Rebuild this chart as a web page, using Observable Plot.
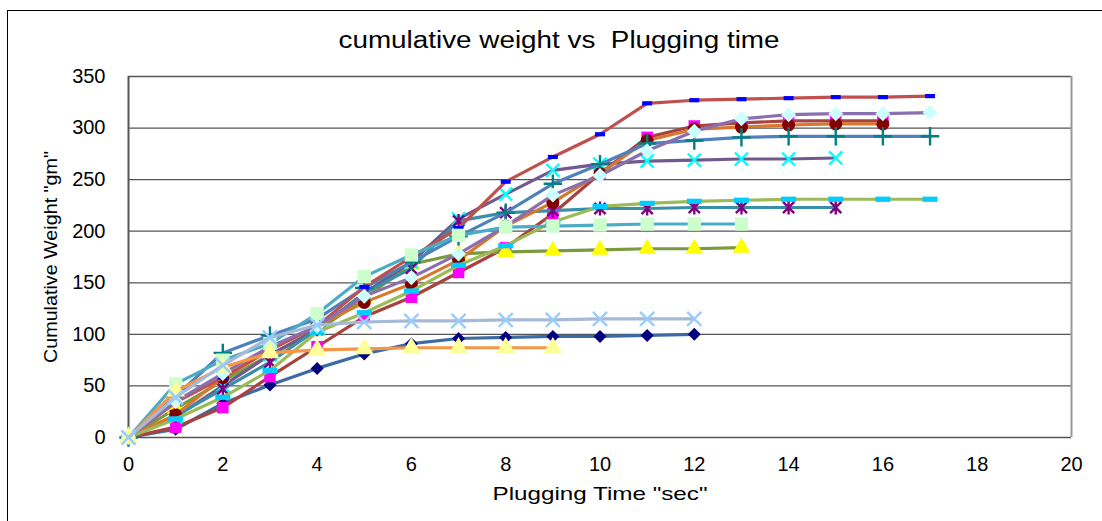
<!DOCTYPE html>
<html>
<head>
<meta charset="utf-8">
<script src="https://cdn.jsdelivr.net/npm/d3@7"></script>
<script src="https://cdn.jsdelivr.net/npm/@observablehq/plot@0.6"></script>
<style>
  html, body { margin: 0; padding: 0; background: #fff; }
  #wrap { position: relative; width: 1102px; height: 521px; overflow: hidden; }
  #frame { position: absolute; left: 7px; top: 10px; width: 1200px; height: 600px;
           border-left: 1px solid #000; border-top: 1px solid #000; pointer-events: none; }
</style>
</head>
<body>
<div id="wrap"><div id="frame"></div></div>
<script>
// ---- data ----
const title = "cumulative weight vs  Plugging time";
const xLabel = "Plugging Time \"sec\"";
const yLabel = "Cumulative Weight \"gm\"";
const xTicks = [0, 2, 4, 6, 8, 10, 12, 14, 16, 18, 20];
const yTicks = [0, 50, 100, 150, 200, 250, 300, 350];
const time = [0, 1, 2, 3, 4, 5, 6, 7, 8, 9, 10, 11, 12, 13, 14, 15, 16, 17];

const run1  = [0, 8, 33, 51, 67, 81, 91, 96, 97, 98, 98, 99, 100];
const run2  = [0, 10, 29, 59, 88, 117, 136, 160, 184, 217, 256, 291, 302, 305, 307, 307, 307];
const run3  = [0, 28, 55, 80, 103, 135, 168, 178, 180, 181, 182, 183, 183, 184];
const run4  = [0, 20, 50, 80, 105, 140, 170, 212, 236, 259, 265, 268, 269, 270, 270, 271];
const run5  = [0, 21, 47, 73, 105, 140, 164, 210, 218, 220, 222, 222, 223, 223, 223, 223];
const run6  = [0, 22, 58, 85, 108, 131, 149, 172, 205, 228, 256, 288, 299, 301, 303, 304, 304];
const run7  = [0, 40, 82, 99, 115, 145, 170, 195, 218, 246, 265, 285, 288, 291, 292, 292, 292, 292];
const run8  = [0, 34, 58, 85, 108, 146, 175, 203, 248, 272, 294, 324, 327, 328, 329, 330, 330, 331];
const run9  = [0, 18, 39, 65, 102, 121, 142, 167, 186, 209, 224, 227, 229, 230, 231, 231, 231, 231];
const run10 = [0, 35, 62, 88, 108, 137, 155, 178, 205, 235, 254, 278, 297, 309, 313, 314, 314, 315];
const run11 = [0, 52, 75, 91, 120, 156, 177, 196, 204, 205, 206, 207, 207, 207];
const run12 = [0, 45, 68, 82, 85, 86, 87, 87, 87, 87];
const run13 = [0, 39, 70, 97, 109, 112, 113, 113, 114, 114, 115, 115, 115];

const runs = [run1, run2, run3, run4, run5, run6, run7, run8, run9, run10, run11, run12, run13];

// ---- styles (Excel-like series formats) ----
function barSymbol(h) {
  return {draw(ctx, size) { const r = Math.sqrt(size / Math.PI);
    ctx.moveTo(-r, -r * h); ctx.lineTo(r, -r * h); ctx.lineTo(r, r * h); ctx.lineTo(-r, r * h); ctx.closePath(); }};
}
const diamondSq = {draw(ctx, size) { const r = Math.sqrt(size / Math.PI);
  ctx.moveTo(0, -r); ctx.lineTo(r, 0); ctx.lineTo(0, r); ctx.lineTo(-r, 0); ctx.closePath(); }};
const starX = {draw(ctx, size) { const r = Math.sqrt(size / Math.PI), d = r * 0.8;
  ctx.moveTo(-d, -d); ctx.lineTo(d, d); ctx.moveTo(d, -d); ctx.lineTo(-d, d); ctx.moveTo(0, -r); ctx.lineTo(0, r); }};

const styles = [
  {line: "#3C6AA4", marker: "#000080", symbol: diamondSq, r: 6.5},
  {line: "#A8423F", marker: "#FF00FF", symbol: "square", r: 6.5},
  {line: "#7A9A3E", marker: "#FFFF00", symbol: "triangle", r: 6.5},
  {line: "#71588F", marker: "#00FFFF", symbol: "times", r: 6, stroke: true},
  {line: "#3A8FA8", marker: "#800080", symbol: starX, r: 7, stroke: true},
  {line: "#D7782F", marker: "#800000", symbol: "circle", r: 6.5},
  {line: "#4F81BD", marker: "#008080", symbol: "plus", r: 6, stroke: true},
  {line: "#C0504D", marker: "#0000FF", symbol: barSymbol(0.42), r: 5},
  {line: "#9BBB59", marker: "#00CCFF", symbol: barSymbol(0.35), r: 7.5},
  {line: "#8A6FAE", marker: "#CCFFFF", symbol: diamondSq, r: 7.5},
  {line: "#4BACC6", marker: "#CCFFCC", symbol: "square", r: 7.5},
  {line: "#F79646", marker: "#FFFF99", symbol: "triangle", r: 7},
  {line: "#A7B9D8", marker: "#99CCFF", symbol: "times", r: 6.5, stroke: true}
];

const seriesMarks = runs.flatMap((vals, k) => {
  const rows = vals.map((v, i) => ({t: time[i], v}));
  const s = styles[k];
  const dot = s.stroke
    ? Plot.dot(rows, {x: "t", y: "v", symbol: s.symbol, r: s.r, fill: "none", stroke: s.marker, strokeWidth: 2.4})
    : Plot.dot(rows, {x: "t", y: "v", symbol: s.symbol, r: s.r, fill: s.marker, stroke: "none"});
  return [
    Plot.line(rows, {x: "t", y: "v", stroke: s.line, strokeWidth: 3.2, strokeLinejoin: "round"}),
    dot
  ];
});

const chart = Plot.plot({
  width: 1102,
  height: 521,
  marginLeft: 128,
  marginRight: 31,
  marginTop: 76,
  marginBottom: 84,
  style: {fontFamily: "'Liberation Sans', Arial, sans-serif", fontSize: "20px", color: "#000", background: "transparent"},
  x: {domain: [0, 20]},
  y: {domain: [0, 350]},
  marks: [
    Plot.ruleY(yTicks, {stroke: "#555", strokeWidth: 1.3}),
    Plot.ruleX([20], {stroke: "#999", strokeWidth: 2}),
    Plot.ruleX([0], {stroke: "#555", strokeWidth: 2}),
    Plot.axisY({ticks: yTicks, tickSize: 0, tickPadding: 23, label: null, fontSize: 20}),
    Plot.axisX({ticks: xTicks, tickSize: 0, tickPadding: 19, label: null, fontSize: 20}),
    ...seriesMarks,
    Plot.text([title], {frameAnchor: "top", lineAnchor: "middle", dy: -36, dx: -41, fontSize: 23, text: d => d}),
    Plot.text([xLabel], {frameAnchor: "bottom", lineAnchor: "middle", dy: 56, fontSize: 19, text: d => d}),
    Plot.text([yLabel], {frameAnchor: "left", textAnchor: "middle", lineAnchor: "middle", dx: -78, rotate: -90, fontSize: 19, text: d => d})
  ]
});

document.getElementById("wrap").prepend(chart);

// stretch the label texts horizontally like the original rendering
const stretch = {[title]: 441, [xLabel]: 215, [yLabel]: 212};
chart.querySelectorAll("text").forEach(t => {
  const len = stretch[t.textContent];
  if (len) { t.setAttribute("textLength", len); t.setAttribute("lengthAdjust", "spacingAndGlyphs"); }
});
</script>
</body>
</html>
